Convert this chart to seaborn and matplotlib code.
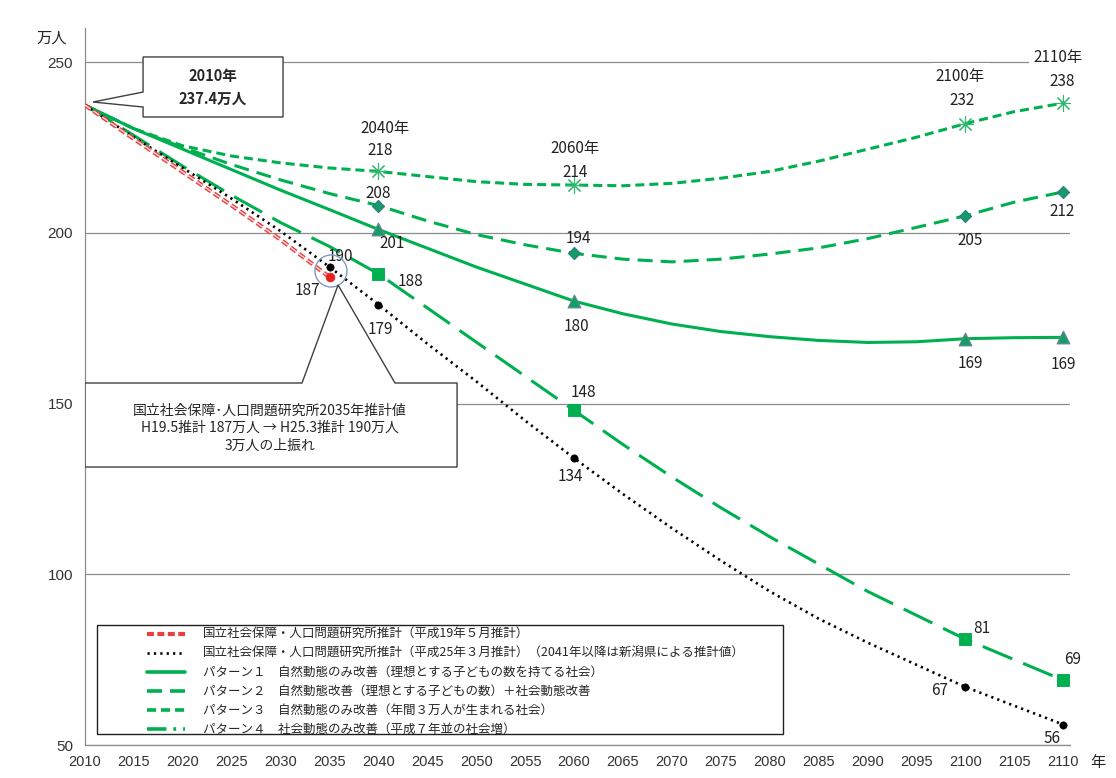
import numpy as np
import pandas as pd
import seaborn as sns
from matplotlib import pyplot as plt
from matplotlib.patches import Polygon, Rectangle, Ellipse
from matplotlib.lines import Line2D

# data (万人)
years = list(range(2010, 2115, 5))
years_h19 = list(range(2010, 2040, 5))

h19 = [237.4, 227.5, 217.8, 208.0, 198.0, 187.0]
h25 = [237.4, 228.0, 219.0, 210.0, 200.5, 190.0, 179.0, 167.5, 156.5, 145.0, 134.0,
       123.5, 113.5, 104.0, 95.0, 87.0, 80.0, 73.5, 67.0, 61.5, 56.0]
p1 = [237.4, 230.5, 224.5, 218.5, 212.5, 206.8, 201.0, 195.5, 190.0, 185.0, 180.0,
      176.3, 173.3, 171.1, 169.6, 168.5, 167.9, 168.1, 169.0, 169.3, 169.4]
p2 = [237.4, 230.5, 225.0, 220.0, 215.5, 211.5, 208.0, 203.5, 199.5, 196.5, 194.0,
      192.3, 191.5, 192.3, 193.8, 195.6, 198.3, 201.6, 205.0, 209.0, 212.0]
p3 = [237.4, 230.5, 225.5, 222.5, 220.5, 219.0, 218.0, 216.5, 215.0, 214.2, 214.0,
      213.8, 214.5, 216.0, 218.0, 221.0, 224.5, 228.0, 232.0, 235.5, 238.0]
p4 = [237.4, 228.5, 219.5, 211.0, 203.0, 196.0, 188.0, 178.0, 168.0, 158.0, 148.0,
      138.0, 128.5, 119.5, 111.0, 103.0, 95.0, 88.0, 81.0, 75.0, 69.0]

mark_years = [2040, 2060, 2100, 2110]
h25_mark_years = [2035, 2040, 2060, 2100, 2110]

legend_labels = [
    "国立社会保障・人口問題研究所推計（平成19年５月推計）",
    "国立社会保障・人口問題研究所推計（平成25年３月推計）（2041年以降は新潟県による推計値）",
    "パターン１　自然動態のみ改善（理想とする子どもの数を持てる社会）",
    "パターン２　自然動態改善（理想とする子どもの数）＋社会動態改善",
    "パターン３　自然動態のみ改善（年間３万人が生まれる社会）",
    "パターン４　社会動態のみ改善（平成７年並の社会増）",
]

sns.set_style("white")
plt.rcParams['font.family'] = ['Noto Sans CJK JP', 'DejaVu Sans']
plt.rcParams['lines.scale_dashes'] = False

green = "#00B050"
num_font = ['Liberation Sans Narrow', 'Liberation Sans', 'DejaVu Sans']

fig = plt.figure(figsize=(11.16, 7.78), dpi=100)
ax = fig.add_axes([0.0762, 0.0424, 0.8826, 0.9216])

s_h25 = pd.Series(h25, index=years)
s_p1 = pd.Series(p1, index=years)
s_p2 = pd.Series(p2, index=years)
s_p3 = pd.Series(p3, index=years)
s_p4 = pd.Series(p4, index=years)

# lines
sns.lineplot(x=years, y=p4, ax=ax, color=green, lw=2.2, linestyle=(0, (23, 8.5)), zorder=3)
sns.lineplot(x=years, y=p3, ax=ax, color=green, lw=2.2, linestyle=(0, (6.5, 3.6)), zorder=3)
sns.lineplot(x=years, y=p2, ax=ax, color=green, lw=2.2, linestyle=(0, (10.8, 5.8)), zorder=3)
sns.lineplot(x=years, y=p1, ax=ax, color=green, lw=2.2, zorder=3)
sns.lineplot(x=years, y=h25, ax=ax, color="black", lw=1.9, linestyle=(0, (1.6, 3.0)), zorder=4)
sns.lineplot(x=years_h19, y=h19, ax=ax, color="#E84040", lw=3.0, linestyle=(0, (5, 2.5)), zorder=4)
sns.lineplot(x=years_h19, y=h19, ax=ax, color="#FFD8D8", lw=1.0, linestyle=(0, (5, 2.5)), zorder=4)

# markers
sns.scatterplot(x=mark_years, y=s_p1[mark_years].values, ax=ax, marker="^", s=85,
                color="#10A060", edgecolor="#7080A0", linewidth=0.8, zorder=5)
sns.scatterplot(x=mark_years, y=s_p2[mark_years].values, ax=ax, marker="D", s=40,
                color="#159A6A", edgecolor="#307080", linewidth=0.6, zorder=5)
ax.plot(mark_years, s_p3[mark_years].values, ls="none", marker=(8, 2, 0), ms=12,
        mec="#30B870", mew=0.8, zorder=5)
sns.scatterplot(x=mark_years, y=s_p4[mark_years].values, ax=ax, marker="s", s=70,
                color=green, edgecolor=green, zorder=5)
sns.scatterplot(x=h25_mark_years, y=s_h25[h25_mark_years].values, ax=ax, marker="o", s=28,
                color="black", edgecolor="black", zorder=6)
sns.scatterplot(x=[2035], y=[h19[-1]], ax=ax, marker="o", s=40,
                color="#E82020", edgecolor="#E82020", zorder=6)

# data labels (offsets in points from the marker)
def lab(text, x, y, dx, dy, **kw):
    ax.annotate(text, (x, y), xytext=(dx, dy), textcoords="offset points",
                ha="center", va="center", fontsize=11, color="#222222", zorder=7, **kw)

box = dict(fc="white", ec="none", pad=3)
lab("2040年", 2040, s_p3[2040], 5, 31)
lab(f"{s_p3[2040]:.0f}", 2040, s_p3[2040], 1, 15)
lab("2060年", 2060, s_p3[2060], 0.5, 26.5)
lab(f"{s_p3[2060]:.0f}", 2060, s_p3[2060], 0.5, 9.3)
lab("2100年", 2100, s_p3[2100], -3.6, 34.2, bbox=box)
lab(f"{s_p3[2100]:.0f}", 2100, s_p3[2100], -2.2, 16.9)
lab("2110年", 2110, s_p3[2110], -3.6, 32.7, bbox=box)
lab(f"{s_p3[2110]:.0f}", 2110, s_p3[2110], -0.7, 15.5)

lab(f"{s_p2[2040]:.0f}", 2040, s_p2[2040], 0, 8.5)
lab(f"{s_p2[2060]:.0f}", 2060, s_p2[2060], 2.9, 10.9)
lab(f"{s_p2[2100]:.0f}", 2100, s_p2[2100], 3.6, -17.5)
lab(f"{s_p2[2110]:.0f}", 2110, s_p2[2110], -0.7, -13.8)

lab(f"{s_p1[2040]:.0f}", 2040, s_p1[2040], 9.8, -9.9)
lab(f"{s_p1[2060]:.0f}", 2060, s_p1[2060], 1.4, -18.6)
lab(f"{s_p1[2100]:.0f}", 2100, s_p1[2100], 3.6, -17.6)
lab(f"{s_p1[2110]:.0f}", 2110, s_p1[2110], 0, -19.7)

lab(f"{s_p4[2040]:.0f}", 2040, s_p4[2040], 22.7, -5.3)
lab(f"{s_p4[2060]:.0f}", 2060, s_p4[2060], 6.5, 13.2)
lab(f"{s_p4[2100]:.0f}", 2100, s_p4[2100], 12.2, 8)
lab(f"{s_p4[2110]:.0f}", 2110, s_p4[2110], 6.5, 15.2)

lab(f"{s_h25[2035]:.0f}", 2035, s_h25[2035], 7.6, 7.8)
lab(f"{s_h25[2040]:.0f}", 2040, s_h25[2040], 1.2, -18.3)
lab(f"{s_h25[2060]:.0f}", 2060, s_h25[2060], -2.9, -12.9)
lab(f"{s_h25[2100]:.0f}", 2100, s_h25[2100], -18.7, -2.2)
lab(f"{s_h25[2110]:.0f}", 2110, s_h25[2110], -7.9, -10.4)
lab(f"{h19[-1]:.0f}", 2035, h19[-1], -16.2, -9.3)

# axes
ax.set_xlim(2010, 2110.7)
ax.set_ylim(50, 260)
ax.set_xticks(range(2010, 2115, 5))
ax.set_yticks([50, 100, 150, 200, 250])
ax.yaxis.grid(True, color="#8C8C8C", lw=0.9, zorder=0)
ax.set_axisbelow(True)
for side in ["top", "right"]:
    ax.spines[side].set_visible(False)
for side in ["left", "bottom"]:
    ax.spines[side].set_color("#8C8C8C")
    ax.spines[side].set_linewidth(0.9)
ax.tick_params(axis="x", direction="out", length=4, width=0.8, color="#8C8C8C", pad=3)
ax.tick_params(axis="y", direction="out", length=7, width=0.8, color="#8C8C8C", pad=1.5)
for t in ax.get_xticklabels():
    t.set_family(num_font)
    t.set_fontsize(10.5)
    t.set_color("#333333")
for t in ax.get_yticklabels():
    t.set_family(num_font)
    t.set_fontsize(11)
    t.set_color("#333333")
ax.set_xlabel("")
ax.set_ylabel("")
fig.text(52 / 1116, 1 - 38 / 778, "万人", ha="center", va="center", fontsize=11)
fig.text(1098 / 1116, 1 - 762 / 778, "年", ha="center", va="center", fontsize=11)

# callout: 2010
c1 = Polygon([(0.0589, 0.9596), (0.2010, 0.9596), (0.2010, 0.8759), (0.0589, 0.8759),
              (0.0589, 0.8898), (0.0081, 0.8968), (0.0589, 0.9107)],
             closed=True, transform=ax.transAxes, fc="white", ec="#404040", lw=1.0, zorder=8)
ax.add_patch(c1)
ax.text(0.130, 0.9177, "2010年\n237.4万人", transform=ax.transAxes, ha="center", va="center",
        fontsize=10.5, fontweight="bold", linespacing=1.5, zorder=9)

# callout: 2035 revision
ax.add_patch(Ellipse((0.2497, 0.6611), 0.0325, 0.0446, transform=ax.transAxes,
                     fc="none", ec="#8098C0", lw=1.0, zorder=7))
c2 = Polygon([(0.0, 0.3877), (0.3777, 0.3877), (0.3777, 0.5049), (0.3147, 0.5049),
              (0.2569, 0.6416), (0.2203, 0.5049), (0.0, 0.5049)],
             closed=True, transform=ax.transAxes, fc="white", ec="#404040", lw=1.0, zorder=8)
ax.add_patch(c2)
ax.text(0.1878, 0.4421, "国立社会保障･人口問題研究所2035年推計値\nH19.5推計 187万人 → H25.3推計 190万人\n3万人の上振れ",
        transform=ax.transAxes, ha="center", va="center", fontsize=10, linespacing=1.35, zorder=9)

# legend
ax.add_patch(Rectangle((0.0122, 0.0153), 0.6964, 0.1520, transform=ax.transAxes,
                       fc="white", ec="#202020", lw=1.0, zorder=8))
handles = [
    Line2D([], [], color="#E84040", lw=3.0, linestyle=(0, (5, 2.5))),
    Line2D([], [], color="black", lw=1.9, linestyle=(0, (1.6, 3.0))),
    Line2D([], [], color=green, lw=2.6),
    Line2D([], [], color=green, lw=2.6, linestyle=(0, (10.8, 5.8))),
    Line2D([], [], color=green, lw=2.6, linestyle=(0, (6.5, 3.6))),
    Line2D([], [], color=green, lw=2.6, linestyle=(0, (14, 5, 2, 5))),
]
leg = ax.legend(handles, legend_labels, loc="upper left", bbox_to_anchor=(0.063, 0.163),
                frameon=False, fontsize=9, handlelength=3, handletextpad=1.45,
                labelspacing=0.48, borderpad=0, borderaxespad=0)
leg.set_zorder(9)

fig.savefig("out.png", dpi=100)
